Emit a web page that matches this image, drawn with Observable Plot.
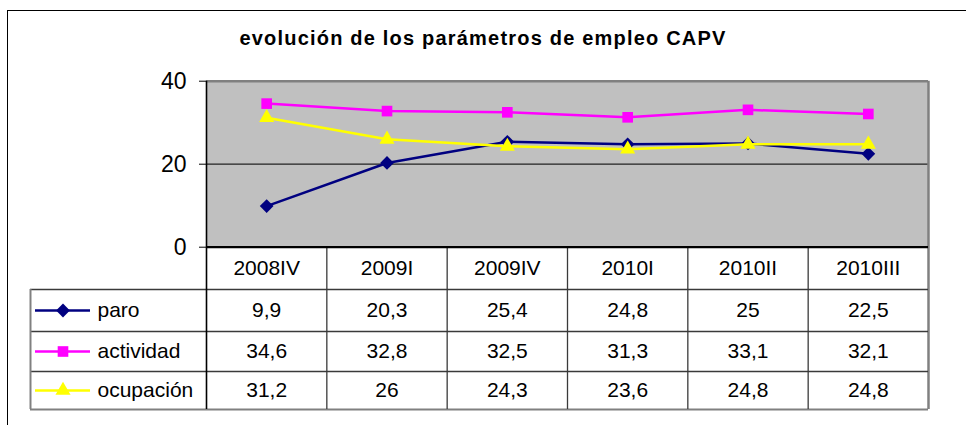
<!DOCTYPE html>
<html><head><meta charset="utf-8">
<script src="https://cdn.jsdelivr.net/npm/d3@7"></script>
<script src="https://cdn.jsdelivr.net/npm/@observablehq/plot@0.6"></script>
<style>
html,body{margin:0;padding:0;background:#fff;overflow:hidden;width:966px;height:425px}
#frame{position:absolute;left:7px;top:10px;width:1000px;height:500px;border:1.5px solid #000;box-sizing:border-box}
#title{position:absolute;left:0;top:27px;width:966px;text-align:center;font:bold 20px "Liberation Sans",Arial,sans-serif;letter-spacing:1.2px;color:#000;line-height:23px}
#chart{position:absolute;left:0;top:0}
</style></head><body>
<div id="frame"></div>
<div id="chart"></div>
<div id="title">evolución de los parámetros de empleo CAPV</div>
<script>
const categories = ["2008IV", "2009I", "2009IV", "2010I", "2010II", "2010III"];
const paro = [9.9, 20.3, 25.4, 24.8, 25, 22.5];
const actividad = [34.6, 32.8, 32.5, 31.3, 33.1, 32.1];
const ocupacion = [31.2, 26, 24.3, 23.6, 24.8, 24.8];
const seriesNames = ["paro", "actividad", "ocupación"];
const seriesValues = [paro, actividad, ocupacion];
const seriesColors = ["#000080", "#FF00FF", "#FFFF00"];
const seriesSymbols = ["diamond2", "square", "triangle"];
const seriesR = [6.2, 6.0, 5.6];
const yTicks = [0, 20, 40];

// layout (pixels)
const W = 966, H = 425;
const plotLeft = 206, plotRight = 928, plotTop = 80.7, zeroPx = 246.7, tableBottom = 409;
const colW = (plotRight - plotLeft) / categories.length;
const pxPerUnit = (zeroPx - plotTop) / 40;
const yAt = px => (zeroPx - px) / pxPerUnit;
const xAt = px => -0.5 + (px - plotLeft) / colW;
const rowEdges = [0, yAt(289), yAt(331), yAt(371), yAt(tableBottom)];
const rowMid = k => (rowEdges[k] + rowEdges[k + 1]) / 2;
const xMin = -0.5, xMax = categories.length - 0.5;
const legendLeft = xAt(30);

const points = [];
seriesNames.forEach((s, k) => seriesValues[k].forEach((v, i) => points.push({series: s, k, i, cat: categories[i], v})));
const fmt = v => String(v).replace(".", ",");

const marks = [
  Plot.rect([0], {x1: xMin, x2: xMax, y1: 0, y2: 40, fill: "#C0C0C0"}),
  Plot.ruleY([20], {x1: xMin, x2: xMax, stroke: "#222", strokeWidth: 1.2}),
  Plot.ruleY([40], {x1: xMin, x2: xMax, stroke: "#808080", strokeWidth: 2.5}),
  Plot.ruleX([xMax], {y1: rowEdges[4], y2: 40, stroke: "#808080", strokeWidth: 2.5}),
  Plot.axisY({ticks: yTicks, tickSize: 7, tickPadding: 13, fontSize: 23, label: null, anchor: "left"}),
];
seriesNames.forEach((s, k) => {
  const pts = points.filter(d => d.k === k);
  marks.push(Plot.line(pts, {x: "i", y: "v", stroke: seriesColors[k], strokeWidth: 2.5}));
  marks.push(Plot.dot(pts, {x: "i", y: "v", symbol: seriesSymbols[k], r: seriesR[k], fill: seriesColors[k], stroke: "none"}));
});
// table grid
const innerCol = "#3a3a3a", outerCol = "#808080";
marks.push(
  Plot.ruleY(rowEdges.slice(1, 4), {x1: legendLeft, x2: xMax, stroke: innerCol, strokeWidth: 1.3}),
  Plot.ruleY([rowEdges[4]], {x1: legendLeft, x2: xMax, stroke: outerCol, strokeWidth: 2}),
  Plot.ruleX(d3.range(categories.length).map(i => i + 0.5).slice(0, -1), {y1: rowEdges[4], y2: 0, stroke: innerCol, strokeWidth: 1.3}),
  Plot.ruleX([xMin], {y1: rowEdges[4], y2: 40, stroke: "#000", strokeWidth: 1.6}),
  Plot.ruleX([legendLeft], {y1: rowEdges[4], y2: rowEdges[1], stroke: outerCol, strokeWidth: 2}),
  Plot.ruleY([0], {x1: xMin, x2: xMax, stroke: "#000", strokeWidth: 2.2}),
  Plot.text(categories, {x: (d, i) => i, y: rowMid(0), text: d => d, fontSize: 21, fill: "#000"}),
  Plot.text(points, {x: "i", y: d => rowMid(d.k + 1), text: d => fmt(d.v), fontSize: 21, fill: "#000"}),
  Plot.text(seriesNames, {x: xAt(97), y: (d, k) => rowMid(k + 1), text: d => d, textAnchor: "start", fontSize: 21, fill: "#000"})
);
seriesNames.forEach((s, k) => {
  marks.push(Plot.ruleY([rowMid(k + 1)], {x1: xAt(35), x2: xAt(90), stroke: seriesColors[k], strokeWidth: 2.5}));
  marks.push(Plot.dot([s], {x: xAt(62.5), y: rowMid(k + 1), symbol: seriesSymbols[k], r: seriesR[k], fill: seriesColors[k], stroke: "none"}));
});

const chart = Plot.plot({
  width: W, height: H,
  marginLeft: plotLeft, marginRight: W - plotRight, marginTop: plotTop, marginBottom: H - tableBottom,
  x: {type: "linear", domain: [xMin, xMax], axis: null},
  y: {type: "linear", domain: [rowEdges[4], 40], axis: null},
  style: {fontFamily: "'Liberation Sans', Arial, sans-serif", background: "transparent", overflow: "visible", color: "#000"},
  marks
});
document.getElementById("chart").appendChild(chart);
</script>
</body></html>
